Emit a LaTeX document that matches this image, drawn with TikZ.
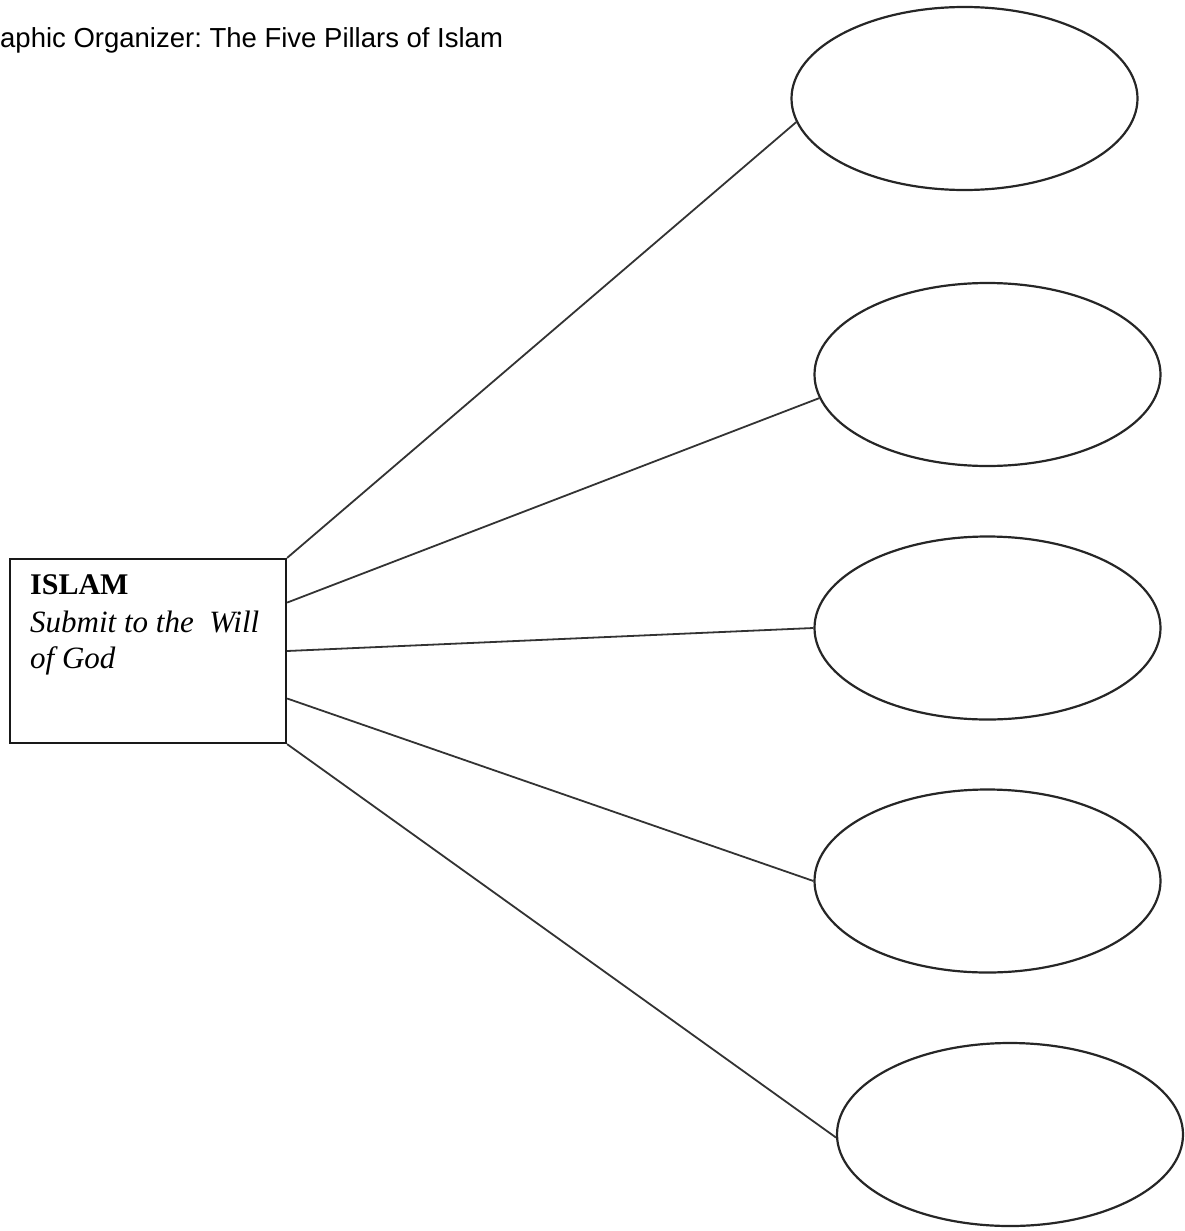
\documentclass[tikz,border=0pt]{standalone}
\usepackage{fontspec}
\setmainfont{Liberation Serif}
\newfontfamily\titlefont{Liberation Sans}
\usetikzlibrary{shapes.geometric,calc}
\tikzset{
  pillar/.style={ellipse, draw=black!85, line width=2.2pt, minimum width=346pt, minimum height=183pt, inner sep=0pt},
  mainbox/.style={rectangle, draw=black!90, line width=2.2pt, minimum width=276pt, minimum height=184pt, inner sep=0pt},
  link/.style={draw=black!80, line width=1.8pt},
  txt/.style={inner sep=0pt, anchor=base west}
}
\frenchspacing
\begin{document}
\begin{tikzpicture}[x=1pt,y=-1pt]
\useasboundingbox (0,0) rectangle (1184,1231);
\node[txt, font=\titlefont\fontsize{27.5}{32}\selectfont] (title) at (0,48) {aphic Organizer: The Five Pillars of Islam};
\node[mainbox] (box) at (148,651) {};
\node[txt, font=\fontsize{30}{36}\selectfont\bfseries] (t1) at (30,594) {ISLAM};
\node[txt, font=\fontsize{31}{36}\selectfont\itshape] (t2) at (30,632) {Submit to the \ Will};
\node[txt, font=\fontsize{31}{36}\selectfont\itshape] (t3) at (30,668) {of God};
\node[pillar] (e1) at (964.5,98.5) {};
\node[pillar] (e2) at (987.5,374.5) {};
\node[pillar] (e3) at (987.5,628) {};
\node[pillar] (e4) at (987.5,881) {};
\node[pillar] (e5) at (1010,1134.5) {};
\coordinate (b2) at ($(box.north east)!0.24!(box.south east)$);
\coordinate (b3) at ($(box.north east)!0.5!(box.south east)$);
\coordinate (b4) at ($(box.north east)!0.755!(box.south east)$);
\draw[link] (box.north east) -- (e1.188);
\draw[link] (b2) -- (e2.188);
\draw[link] (b3) -- (e3.180);
\draw[link] (b4) -- (e4.180.5);
\draw[link] (box.south east) -- (e5.181);
\end{tikzpicture}
\end{document}
